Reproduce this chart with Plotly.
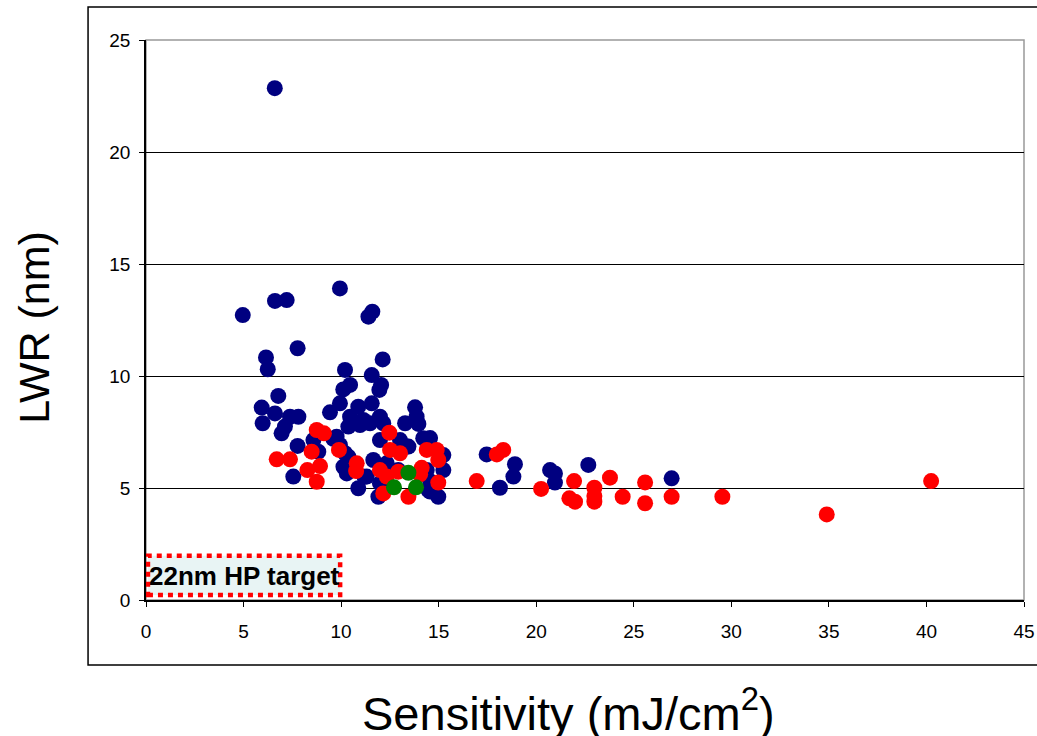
import plotly.graph_objects as go

# sensitivity (mJ/cm2) and LWR (nm) per resist sample
blue_x = [6.6, 4.96, 6.61, 7.21, 9.94, 11.40, 11.60, 7.77, 6.15, 6.24, 12.13, 10.20,
          11.57, 10.46, 10.11, 12.05, 11.96, 6.78, 5.93, 6.61, 5.98, 7.38, 7.81, 7.12,
          6.95, 9.43, 9.94, 10.88, 11.57, 10.46, 10.63, 10.37, 10.97, 11.99, 12.16, 13.79,
          13.87, 13.28, 13.96, 7.77, 8.58, 8.83, 9.77, 9.94, 13.02, 13.45, 14.21, 7.55,
          10.37, 10.29, 10.88, 11.31, 11.99, 12.34, 14.39, 14.47, 14.98, 15.24, 15.24, 11.91,
          12.93, 17.46, 18.91, 18.83, 18.14, 20.71, 20.96, 20.96, 22.67, 26.94, 14.56, 11.14,
          11.48, 9.6, 11.99, 10.2, 10.12, 11.65, 14.56, 14.56, 13.36, 11.2]
blue_y = [22.85, 12.72, 13.35, 13.39, 13.91, 12.65, 12.87, 11.24, 10.83, 10.30, 10.74, 10.27,
          10.04, 9.60, 9.40, 9.60, 9.38, 9.11, 8.59, 8.33, 7.89, 8.18, 8.18, 7.74,
          7.44, 8.38, 8.78, 8.63, 8.78, 8.18, 7.89, 7.74, 7.81, 8.18, 7.89, 8.60,
          8.18, 7.89, 7.86, 6.88, 7.14, 6.62, 7.29, 6.92, 7.14, 6.85, 7.22, 5.51,
          6.40, 5.65, 4.99, 5.51, 5.21, 6.10, 5.80, 4.91, 4.61, 6.47, 5.80, 4.61,
          5.80, 6.50, 6.06, 5.51, 5.01, 5.80, 5.65, 5.24, 6.03, 5.43, 7.23, 8.04,
          7.89, 7.2, 7.14, 6.55, 5.95, 6.25, 4.84, 5.3, 6.85, 5.5]

red_x = [6.70, 7.38, 8.75, 9.12, 8.49, 9.89, 8.27, 8.92, 8.75, 10.80, 10.77, 11.99,
         12.47, 12.51, 13.02, 12.34, 12.93, 14.39, 14.90, 14.98, 14.13, 14.05, 14.98, 12.16,
         13.45, 16.95, 17.98, 18.31, 20.25, 21.94, 21.70, 21.99, 22.98, 22.98, 22.98, 23.78,
         24.43, 25.58, 25.58, 26.94, 29.54, 34.89, 40.24]
red_y = [6.28, 6.28, 7.59, 7.44, 6.62, 6.70, 5.80, 5.98, 5.28, 6.10, 5.76, 5.80,
         7.47, 6.70, 6.55, 5.51, 5.73, 6.70, 6.70, 6.25, 5.90, 5.61, 5.24, 4.76,
         4.61, 5.31, 6.50, 6.70, 4.96, 5.31, 4.54, 4.39, 5.01, 4.64, 4.39, 5.46,
         4.61, 5.25, 4.32, 4.61, 4.61, 3.82, 5.31]

green_x = [13.45, 12.71, 13.84]
green_y = [5.68, 5.03, 5.03]

x_ticks = [0, 5, 10, 15, 20, 25, 30, 35, 40, 45]
y_ticks = [0, 5, 10, 15, 20, 25]

font = "Arial, Liberation Sans, sans-serif"

fig = go.Figure()
for xs, ys, col in [(blue_x, blue_y, "#000080"), (red_x, red_y, "#FF0000"),
                    (green_x, green_y, "#008000")]:
    fig.add_trace(go.Scatter(x=xs, y=ys, mode="markers", showlegend=False,
                             marker=dict(size=16, color=col, line=dict(width=0))))

# target box
fig.add_shape(type="rect", xref="x", yref="y", x0=0.1, x1=9.95, y0=0.22, y1=1.98,
              fillcolor="#E8F4F4", line=dict(color="#FF0000", width=4.5, dash="5px,5px"),
              layer="below")
fig.add_annotation(x=0.05, y=1.05, xref="x", yref="y", text="<b>22nm HP target</b>",
                   showarrow=False, xanchor="left", yanchor="middle",
                   font=dict(family=font, size=26, color="black"))

# plot area border (grey) and outer chart frame
fig.add_shape(type="rect", xref="paper", yref="paper", x0=0, x1=1, y0=0, y1=1,
              line=dict(color="#999999", width=1.5), layer="below")
fig.add_shape(type="rect", xref="paper", yref="paper", x0=-0.066, x1=1.05,
              y0=-0.116, y1=1.059, line=dict(color="black", width=1.5))

fig.add_annotation(x=0.481, y=-0.197, xref="paper", yref="paper",
                   text="Sensitivity (mJ/cm<sup>2</sup>)", showarrow=False,
                   xanchor="center", yanchor="middle",
                   font=dict(family=font, size=47, color="black"))
fig.add_annotation(x=-0.127, y=0.487, xref="paper", yref="paper", text="LWR (nm)",
                   showarrow=False, textangle=-90, xanchor="center", yanchor="middle",
                   font=dict(family=font, size=43, color="black"))

fig.update_xaxes(range=[0, 45], tickvals=x_ticks, showgrid=False, zeroline=False,
                 showline=True, linecolor="black", linewidth=1.5, automargin=False,
                 ticks="outside", ticklen=5, tickcolor="black", ticklabelstandoff=8,
                 tickfont=dict(family=font, size=19, color="black"))
fig.update_yaxes(range=[0, 25], tickvals=y_ticks, showgrid=True, gridcolor="black",
                 gridwidth=1, zeroline=False, showline=True, linecolor="black",
                 linewidth=1.5, ticks="outside", ticklen=5, tickcolor="black",
                 automargin=False, ticklabelstandoff=5,
                 tickfont=dict(family=font, size=19, color="black"))

fig.update_layout(width=1037, height=736, margin=dict(l=146, r=13, t=40, b=136),
                  plot_bgcolor="white", paper_bgcolor="white")

fig.write_html("out.html", config={"displayModeBar": False},
               post_script="document.body.style.margin='0';")
